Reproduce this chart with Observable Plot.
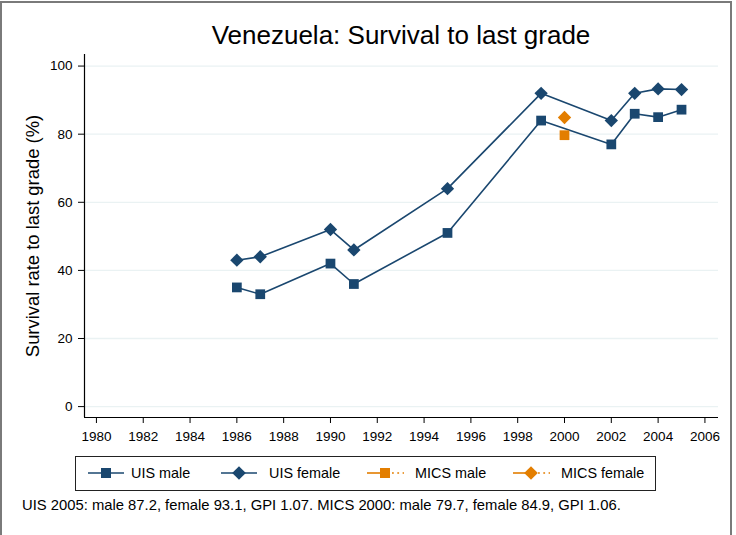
<!DOCTYPE html>
<html>
<head>
<meta charset="utf-8">
<script src="https://cdn.jsdelivr.net/npm/d3@7"></script>
<script src="https://cdn.jsdelivr.net/npm/@observablehq/plot@0.6"></script>
<style>
  html, body { margin: 0; padding: 0; background: #fff; }
  #wrap { position: relative; width: 736px; height: 535px; overflow: hidden; font-family: "Liberation Sans", Arial, sans-serif; }
  #border { position: absolute; left: 0; top: 1px; width: 732px; height: 560px; border: 2px solid #7a7a7a; box-sizing: border-box; }
  #title { position: absolute; left: 84px; width: 634px; top: 20px; text-align: center; font-size: 26px; line-height: 30px; color: #000; white-space: nowrap; }
  #chart { position: absolute; left: 0; top: 0; }
  #legend { position: absolute; left: 75px; top: 456px; width: 581px; height: 35px; border: 1px solid #222; box-sizing: border-box; }
  .sw { position: absolute; top: 8px; }
  .lt { position: absolute; top: 0; height: 33px; line-height: 33px; font-size: 14.4px; color: #000; white-space: nowrap; }
  #caption { position: absolute; left: 22px; top: 497px; font-size: 14.8px; line-height: 17px; color: #000; white-space: nowrap; }
</style>
</head>
<body>
<div id="wrap">
  <div id="border"></div>
  <div id="chart"></div>
  <div id="title"></div>
  <div id="legend"></div>
  <div id="caption"></div>
</div>
<script>
const titleText = "Venezuela: Survival to last grade";
const yLabel = "Survival rate to last grade (%)";
const captionText = "UIS 2005: male 87.2, female 93.1, GPI 1.07. MICS 2000: male 79.7, female 84.9, GPI 1.06.";

const uisYears = [1986, 1987, 1990, 1991, 1995, 1999, 2002, 2003, 2004, 2005];
const uisMale = [35, 33, 42, 36, 51, 84, 77, 86, 85, 87.2];
const uisFemale = [43, 44, 52, 46, 64, 92, 84, 92, 93.3, 93.1];
const micsYears = [2000];
const micsMale = [79.7];
const micsFemale = [84.9];

const xTicks = [1980, 1982, 1984, 1986, 1988, 1990, 1992, 1994, 1996, 1998, 2000, 2002, 2004, 2006];
const yTicks = [0, 20, 40, 60, 80, 100];
const seriesNames = ["UIS male", "UIS female", "MICS male", "MICS female"];

const navy = "#1a476f";
const orange = "#e37e00";
const grid = "#eaf2f3";
const xDomain = [1979.49, 2006.58];
const yDomain = [-3.2, 103.4];

const uisM = uisYears.map((x, i) => ({x, y: uisMale[i]}));
const uisF = uisYears.map((x, i) => ({x, y: uisFemale[i]}));
const micsM = micsYears.map((x, i) => ({x, y: micsMale[i]}));
const micsF = micsYears.map((x, i) => ({x, y: micsFemale[i]}));

const chart = Plot.plot({
  width: 736,
  height: 460,
  marginLeft: 84,
  marginRight: 18,
  marginTop: 54,
  marginBottom: 43,
  style: {fontFamily: "Liberation Sans, Arial, sans-serif", background: "transparent", color: "#000"},
  x: {domain: xDomain, nice: false},
  y: {domain: yDomain, nice: false},
  marks: [
    Plot.ruleY(yTicks, {stroke: grid, strokeWidth: 1.3}),
    Plot.ruleX([xDomain[0]], {stroke: "#000", strokeWidth: 1.2}),
    Plot.ruleY([yDomain[0]], {stroke: "#000", strokeWidth: 1.2}),
    Plot.axisX({ticks: xTicks, tickFormat: d => String(d), tickSize: 6, tickPadding: 8, fontSize: 13.5, label: null, stroke: "#000"}),
    Plot.axisY({ticks: yTicks, tickFormat: d => String(d), tickSize: 6, tickPadding: 6, fontSize: 13.5, label: null, stroke: "#000"}),
    Plot.text([yLabel], {frameAnchor: "left", dx: -51, rotate: -90, textAnchor: "middle", fontSize: 18.4, fill: "#000"}),
    Plot.line(uisF, {x: "x", y: "y", stroke: navy, strokeWidth: 1.6}),
    Plot.line(uisM, {x: "x", y: "y", stroke: navy, strokeWidth: 1.6}),
    Plot.dot(uisF, {x: "x", y: "y", symbol: "diamond2", r: 6, fill: navy, stroke: "none"}),
    Plot.dot(uisM, {x: "x", y: "y", symbol: "square", r: 5.5, fill: navy, stroke: "none"}),
    Plot.dot(micsM, {x: "x", y: "y", symbol: "square", r: 5.5, fill: orange, stroke: "none"}),
    Plot.dot(micsF, {x: "x", y: "y", symbol: "diamond2", r: 6, fill: orange, stroke: "none"})
  ]
});
document.getElementById("chart").appendChild(chart);
document.getElementById("title").textContent = titleText;
document.getElementById("caption").textContent = captionText;

// legend (positions relative to the legend box interior, which starts at x=76)
const legendSpec = [
  {name: seriesNames[0], color: navy, sym: "square", dash: false, sw: 12, tx: 55},
  {name: seriesNames[1], color: navy, sym: "diamond", dash: false, sw: 145, tx: 193},
  {name: seriesNames[2], color: orange, sym: "square", dash: true, sw: 291, tx: 339},
  {name: seriesNames[3], color: orange, sym: "diamond", dash: true, sw: 437, tx: 485}
];
const legend = document.getElementById("legend");
const ns = "http://www.w3.org/2000/svg";
function line(svg, x1, x2, color, dash) {
  const l = document.createElementNS(ns, "line");
  l.setAttribute("x1", x1); l.setAttribute("x2", x2); l.setAttribute("y1", 8); l.setAttribute("y2", 8);
  l.setAttribute("stroke", color); l.setAttribute("stroke-width", 1.6);
  if (dash) l.setAttribute("stroke-dasharray", "1.8 3.5");
  svg.appendChild(l);
}
for (const s of legendSpec) {
  const svg = document.createElementNS(ns, "svg");
  svg.setAttribute("class", "sw");
  svg.setAttribute("width", 37); svg.setAttribute("height", 16);
  svg.style.left = s.sw + "px";
  if (s.dash) { line(svg, 0, 19, s.color, false); line(svg, 25, 37, s.color, true); }
  else line(svg, 0, 36, s.color, false);
  const p = document.createElementNS(ns, "path");
  const cx = 18, cy = 8;
  if (s.sym === "square") p.setAttribute("d", `M${cx-5},${cy-5}h10v10h-10z`);
  else p.setAttribute("d", `M${cx},${cy-6.8}L${cx+6.8},${cy}L${cx},${cy+6.8}L${cx-6.8},${cy}z`);
  p.setAttribute("fill", s.color);
  svg.appendChild(p);
  legend.appendChild(svg);
  const span = document.createElement("div");
  span.className = "lt";
  span.style.left = s.tx + "px";
  span.textContent = s.name;
  legend.appendChild(span);
}
</script>
</body>
</html>
